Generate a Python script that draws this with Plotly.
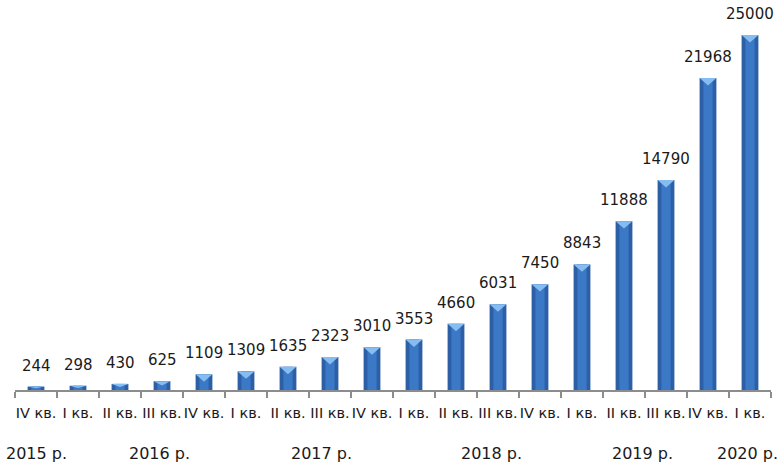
import plotly.graph_objects as go

# Quarterly values, IV кв. 2015 .. I кв. 2020
quarters = ["IV кв.", "I кв.", "II кв.", "III кв.", "IV кв.", "I кв.", "II кв.", "III кв.",
            "IV кв.", "I кв.", "II кв.", "III кв.", "IV кв.", "I кв.", "II кв.", "III кв.",
            "IV кв.", "I кв."]
values = [244, 298, 430, 625, 1109, 1309, 1635, 2323, 3010, 3553, 4660, 6031,
          7450, 8843, 11888, 14790, 21968, 25000]
years = ["2015 р.", "2016 р.", "2017 р.", "2018 р.", "2019 р.", "2020 р."]
year_pos = [0.0, 2.95, 6.8, 10.85, 14.45, 16.95]

FONT = "DejaVu Sans"
n = len(values)
idx = list(range(n))
BAR_W = 0.40
Y_MAX = 26060
BEVEL = 520  # depth of the light top facet, in value units
X_RANGE = [-0.5, n - 0.5]

fig = go.Figure()

# dark outer body of each bar
fig.add_trace(go.Bar(x=idx, y=values, width=BAR_W, marker=dict(color="#2c5fa6", line=dict(width=0)),
                     hoverinfo="skip"))
# lighter central stripe for the rounded look
fig.add_trace(go.Bar(x=idx, y=values, width=BAR_W * 0.55, marker=dict(color="#3b78c6", line=dict(width=0)),
                     hoverinfo="skip"))

# light bevelled facet on top of each bar (downward triangle)
tx, ty = [], []
for i, v in zip(idx, values):
    d = min(BEVEL, v * 0.5)
    tx += [i - BAR_W / 2, i + BAR_W / 2, i, i - BAR_W / 2, None]
    ty += [v, v, v - d, v, None]
fig.add_trace(go.Scatter(x=tx, y=ty, mode="lines", fill="toself", fillcolor="#86bdf0",
                         line=dict(width=0, color="#86bdf0"), hoverinfo="skip"))

# invisible trace that carries the quarter-label axis
fig.add_trace(go.Scatter(x=idx, y=[0] * n, xaxis="x2", mode="markers",
                         marker=dict(opacity=0), hoverinfo="skip"))

# value labels above bars
for i, v in zip(idx, values):
    fig.add_annotation(x=i, y=v, text=str(v), showarrow=False, yanchor="bottom", yshift=10,
                       font=dict(family=FONT, size=15, color="#1a1a1a"))

# year labels under the quarter labels
for yr, p in zip(years, year_pos):
    fig.add_annotation(x=p, y=0, xref="x", yref="paper", text=yr, showarrow=False,
                       yanchor="middle", yshift=-63,
                       font=dict(family=FONT, size=16, color="#1a1a1a"))

fig.update_layout(
    width=781, height=463,
    margin=dict(l=15, r=10, t=20, b=73),
    paper_bgcolor="white", plot_bgcolor="white",
    barmode="overlay", showlegend=False,
    # main axis: line plus tick marks on the category boundaries
    xaxis=dict(
        type="linear", range=X_RANGE,
        tickmode="array", tickvals=[k - 0.5 for k in range(n + 1)],
        showticklabels=False, ticks="outside", ticklen=6, tickwidth=1.5, tickcolor="#8c8c8c",
        showline=True, linecolor="#8c8c8c", linewidth=2,
        showgrid=False, zeroline=False,
    ),
    # overlay axis: quarter names centred under each bar
    xaxis2=dict(
        type="linear", range=X_RANGE, overlaying="x", side="bottom", anchor="y",
        tickmode="array", tickvals=idx, ticktext=quarters, tickangle=0,
        ticks="", showline=False, showgrid=False, zeroline=False, ticklabelstandoff=12,
        tickfont=dict(family=FONT, size=14.5, color="#1a1a1a"),
    ),
    yaxis=dict(range=[0, Y_MAX], visible=False, showgrid=False, zeroline=False),
)

fig.write_html("out.html")
